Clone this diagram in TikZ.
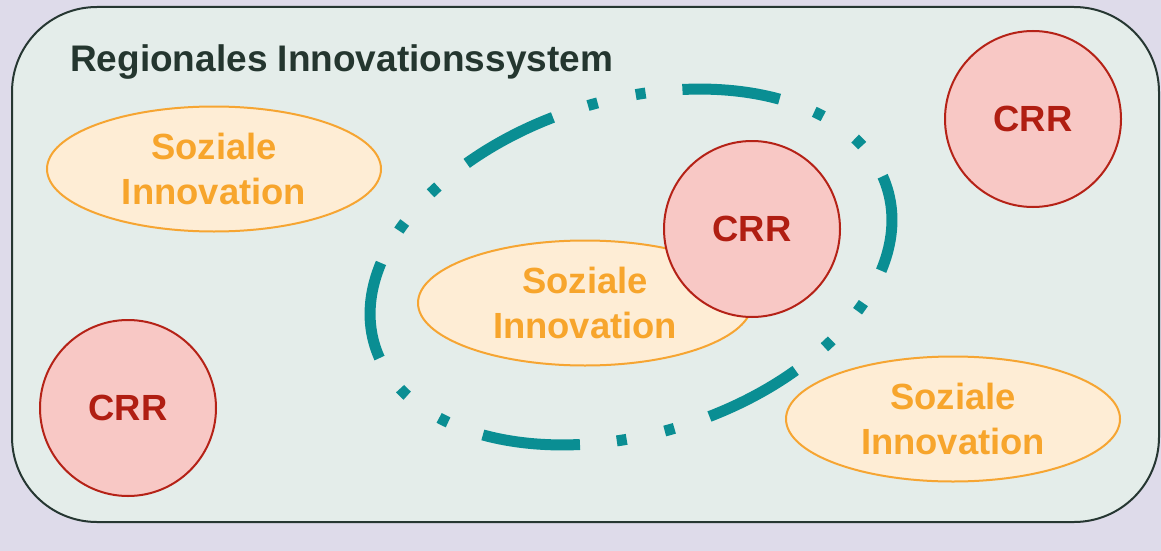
\documentclass[tikz,border=0pt]{standalone}
\usepackage{fontspec}
\setmainfont{Liberation Sans}
\usetikzlibrary{shapes.geometric}

\definecolor{lavendel}{RGB}{222,219,234}
\definecolor{boxfill}{RGB}{228,237,234}
\definecolor{rahmen}{RGB}{38,55,50}
\definecolor{titelfarbe}{RGB}{36,54,47}
\definecolor{sozfill}{RGB}{254,237,213}
\definecolor{sozrand}{RGB}{246,165,50}
\definecolor{soztext}{RGB}{247,165,44}
\definecolor{crrfill}{RGB}{248,200,197}
\definecolor{crrrand}{RGB}{181,34,23}
\definecolor{crrtext}{RGB}{176,30,18}
\definecolor{petrol}{RGB}{10,142,147}

\begin{document}
\begin{tikzpicture}[x=1pt,y=-1pt,
    soziale/.style={ellipse, draw=sozrand, fill=sozfill, line width=2,
        minimum width=334, minimum height=125, text=soztext, align=center,
        font=\bfseries\fontsize{36.4}{45}\selectfont},
    crr/.style={circle, draw=crrrand, fill=crrfill, line width=2,
        minimum size=176, text=crrtext,
        font=\bfseries\fontsize{36.4}{45}\selectfont},
    petrolline/.style={petrol, line width=11,
        dash pattern=on 98pt off 37pt on 10pt off 39pt on 10pt off 37pt,
        dash phase=14pt}]

\fill [lavendel] (0,0) rectangle (1161,551);
\useasboundingbox (0,0) rectangle (1161,551);

% system box
\draw [draw=rahmen, fill=boxfill, line width=2, rounded corners=85] (12,7) rectangle (1159,522);
\node [anchor=base west, inner sep=0, text=titelfarbe, font=\bfseries\fontsize{37}{44}\selectfont] (titel) at (70,71) {Regionales Innovationssystem};

% social innovations
\node [soziale] (soz1) at (214,169) {Soziale\\Innovation};
\node [soziale] (soz2) at (585,303) {Soziale\\Innovation};
\node [soziale] (soz3) at (953,419) {Soziale\\Innovation};

% dash-dot ring
\draw [petrolline, rotate around={17:(631,267)}] (631,267) ellipse [x radius=268, y radius=167];

% CRR circles
\node [crr] (crr1) at (1033,119) {CRR};
\node [crr] (crr2) at (752,229) {CRR};
\node [crr] (crr3) at (128,408) {CRR};

\end{tikzpicture}
\end{document}
